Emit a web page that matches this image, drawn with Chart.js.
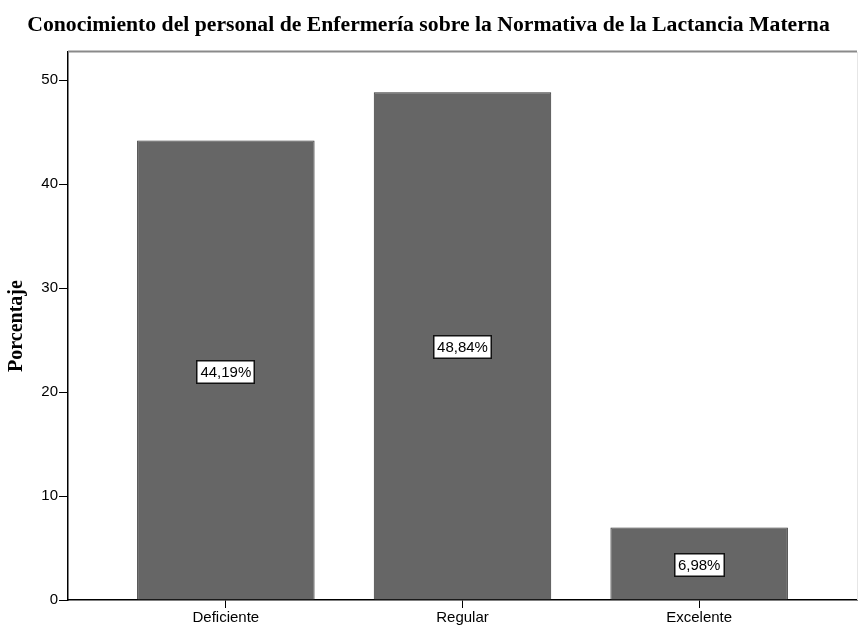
<!DOCTYPE html>
<html>
<head>
<meta charset="utf-8">
<script src="https://cdn.jsdelivr.net/npm/chart.js@4"></script>
<style>
  html, body { margin: 0; padding: 0; background: #fff; }
  #wrap { width: 858px; height: 628px; }
</style>
</head>
<body>
<div id="wrap"><canvas id="chart" width="858" height="628"></canvas></div>
<script>
// Nivel de conocimiento y porcentaje de cada grupo
const categories = ['Deficiente', 'Regular', 'Excelente'];
const percentages = [44.19, 48.84, 6.98];
const yTicks = [0, 10, 20, 30, 40, 50];

const serif = '"Liberation Serif", "Times New Roman", serif';
const sans = '"Liberation Sans", Arial, sans-serif';

// Marco gris superior y borde derecho del área de trazado
const framePlugin = {
    id: 'frame',
    afterDraw(chart) {
        const { ctx, chartArea } = chart;
        ctx.save();
        ctx.strokeStyle = '#8a8a8a';
        ctx.lineWidth = 2;
        ctx.beginPath();
        ctx.moveTo(chartArea.left, chartArea.top - 0.5);
        ctx.lineTo(chartArea.right, chartArea.top - 0.5);
        ctx.stroke();
        ctx.strokeStyle = '#e6e6e6';
        ctx.lineWidth = 1;
        ctx.beginPath();
        ctx.moveTo(chartArea.right + 0.5, chartArea.top);
        ctx.lineTo(chartArea.right + 0.5, chartArea.bottom);
        ctx.stroke();
        ctx.restore();
    }
};

// Etiqueta con el porcentaje en el centro de cada barra
const valueLabels = {
    id: 'valueLabels',
    afterDatasetsDraw(chart) {
        const { ctx } = chart;
        const meta = chart.getDatasetMeta(0);
        ctx.save();
        ctx.font = '15px ' + sans;
        ctx.textAlign = 'center';
        ctx.textBaseline = 'middle';
        meta.data.forEach((bar, i) => {
            const text = percentages[i].toFixed(2).replace('.', ',') + '%';
            const cy = (bar.y + bar.base) / 2 + 1.5;
            const w = Math.round(ctx.measureText(text).width + 8);
            const h = 24;
            const x0 = Math.round(bar.x - w / 2);
            const y0 = Math.round(cy - h / 2);
            ctx.fillStyle = '#fff';
            ctx.fillRect(x0, y0, w, h);
            ctx.strokeStyle = '#111';
            ctx.lineWidth = 1.5;
            ctx.strokeRect(x0 + 0.75, y0 + 0.75, w - 1.5, h - 1.5);
            ctx.fillStyle = '#000';
            ctx.fillText(text, bar.x, cy + 1);
        });
        ctx.restore();
    }
};

new Chart(document.getElementById('chart'), {
    type: 'bar',
    data: {
        datasets: [{
            data: percentages.map((v, i) => ({ x: i, y: v })),
            backgroundColor: '#666666',
            borderColor: '#333333',
            borderWidth: 1,
            barPercentage: 0.75,
            categoryPercentage: 1
        }]
    },
    options: {
        responsive: false,
        animation: false,
        layout: { padding: { left: 0, right: 1, top: 0, bottom: 0 } },
        plugins: {
            legend: { display: false },
            tooltip: { enabled: false },
            title: {
                display: true,
                text: 'Conocimiento del personal de Enfermería sobre la Normativa de la Lactancia Materna',
                color: '#000',
                font: { family: serif, size: 21.7, weight: 'bold' },
                padding: { top: 12, bottom: 14 }
            }
        },
        scales: {
            x: {
                type: 'linear',
                offset: false,
                min: -0.667,
                max: 2.667,
                afterBuildTicks: (scale) => {
                    scale.ticks = categories.map((c, i) => ({ value: i }));
                },
                afterFit: (scale) => { scale.height = 28; },
                ticks: {
                    callback: (v) => categories[v],
                    color: '#000',
                    font: { family: sans, size: 15 },
                    padding: 1,
                    maxRotation: 0
                },
                grid: {
                    offset: false,
                    drawOnChartArea: false,
                    drawTicks: true,
                    tickLength: 8,
                    tickColor: '#000'
                },
                border: { display: true, color: '#000', width: 1.5 }
            },
            y: {
                min: 0,
                max: 52.7,
                afterBuildTicks: (scale) => {
                    scale.ticks = yTicks.map(v => ({ value: v }));
                },
                afterFit: (scale) => { scale.width = 68; },
                ticks: {
                    color: '#000',
                    font: { family: sans, size: 15 },
                    padding: 1
                },
                grid: {
                    drawOnChartArea: false,
                    drawTicks: true,
                    tickLength: 9,
                    tickColor: '#000'
                },
                border: { display: true, color: '#000', width: 1.5 },
                title: {
                    display: true,
                    text: 'Porcentaje',
                    color: '#000',
                    font: { family: serif, size: 20, weight: 'bold' },
                    padding: { top: 5, bottom: 0 }
                }
            }
        }
    },
    plugins: [framePlugin, valueLabels]
});
</script>
</body>
</html>
